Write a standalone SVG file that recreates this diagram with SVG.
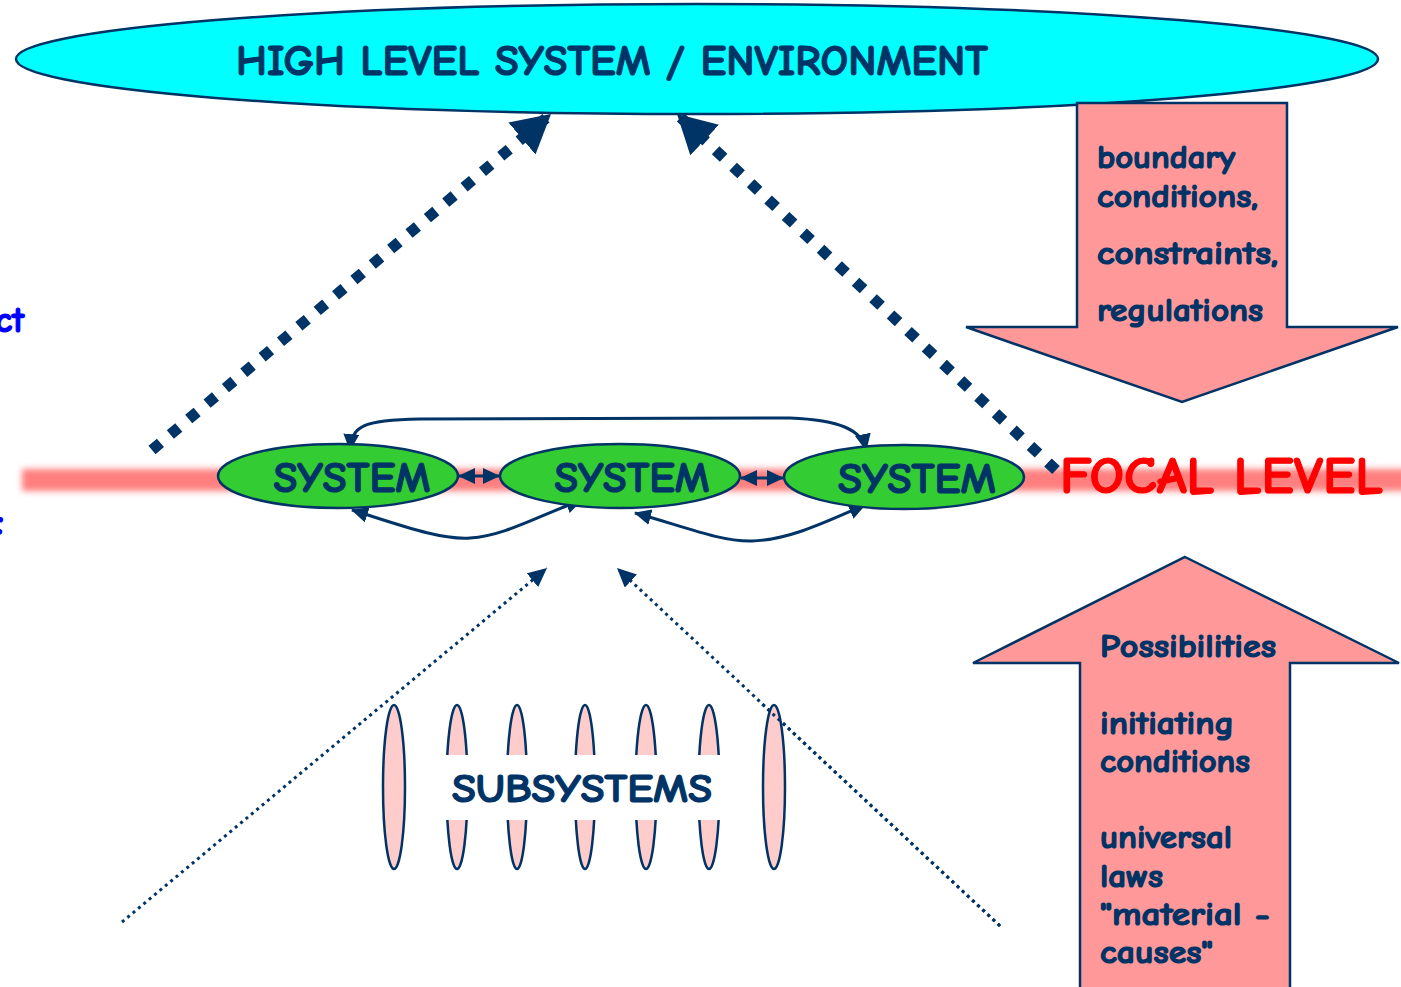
<svg xmlns="http://www.w3.org/2000/svg" width="1401" height="987" viewBox="0 0 1401 987">
<style>
.lbl{font-family:"Comic Sans MS","Comic Neue","Noto Sans",sans-serif;font-weight:bold;fill:#003366;stroke:#003366;stroke-width:1.2}
.sys{fill:#33CC33;stroke:#003366;stroke-width:2.5}
.sub{fill:#FFCCCC;stroke:#003366;stroke-width:2.5}
.conn{fill:none;stroke:#003366;stroke-width:3}
.big{fill:none;stroke:#003366;stroke-width:11;stroke-dasharray:11 13}
.thin{fill:none;stroke:#003366;stroke-width:3;stroke-dasharray:3 4}
.blk{fill:#FF9999;stroke:#003366;stroke-width:2.5}
</style>
<defs>
<filter id="blur" x="-5%" y="-100%" width="110%" height="300%"><feGaussianBlur stdDeviation="3"/></filter>
<marker id="sm" markerUnits="userSpaceOnUse" markerWidth="18" markerHeight="16" refX="16" refY="8" orient="auto-start-reverse" viewBox="0 0 18 16"><path d="M0,0 L17,8 L0,16 z" fill="#003366"/></marker>
<marker id="bg" markerUnits="userSpaceOnUse" markerWidth="40" markerHeight="42" refX="38" refY="21" orient="auto" viewBox="0 0 40 42"><path d="M0,0 L38,21 L0,42 z" fill="#003366"/></marker>
<marker id="th" markerUnits="userSpaceOnUse" markerWidth="20" markerHeight="18" refX="19" refY="9" orient="auto" viewBox="0 0 20 18"><path d="M0,0 L19,9 L0,18 z" fill="#003366"/></marker>
</defs>
<rect width="1401" height="987" fill="#FFFFFF"/>
<g id="env">
<ellipse cx="697" cy="59" rx="681" ry="55" fill="#00FFFF" stroke="#003366" stroke-width="2.5"/>
<text class="lbl" x="612" y="75" font-size="42" text-anchor="middle" textLength="752" lengthAdjust="spacingAndGlyphs">HIGH LEVEL SYSTEM / ENVIRONMENT</text>
</g>
<g id="focal-band">
<rect x="22" y="469" width="1390" height="22" fill="#FF7F7F" filter="url(#blur)"/>
</g>
<g id="left-cut">
<text x="24" y="332" font-family="'Comic Sans MS','Comic Neue','Noto Sans',sans-serif" font-weight="bold" font-size="36" fill="#0000FF" stroke="#0000FF" stroke-width="1.2" text-anchor="end">ct</text>
<text x="4" y="534" font-family="'Comic Sans MS','Comic Neue','Noto Sans',sans-serif" font-weight="bold" font-size="36" fill="#0000FF" stroke="#0000FF" stroke-width="1.2" text-anchor="end">:</text>
</g>
<g id="connectors">
<path class="big" d="M152,450 L551,114" marker-end="url(#bg)"/>
<path class="big" d="M1056,470 L677,114" marker-end="url(#bg)"/>
<path class="thin" d="M122,922 L547,568" marker-end="url(#th)"/>
<path class="thin" d="M1000,926 L617,568" marker-end="url(#th)"/>
<path class="conn" d="M459,476 L499,476" marker-start="url(#sm)" marker-end="url(#sm)"/>
<path class="conn" d="M741,478 L783,478" marker-start="url(#sm)" marker-end="url(#sm)"/>
<path class="conn" d="M350,450 C352,426 362,420 420,419 L790,418 C840,420 862,430 866,450" marker-start="url(#sm)" marker-end="url(#sm)"/>
<path class="conn" d="M352,510 C400,525 440,540 470,538 C505,536 540,515 582,500" marker-start="url(#sm)" marker-end="url(#sm)"/>
<path class="conn" d="M635,513 C680,525 720,542 752,541 C790,540 830,520 865,505" marker-start="url(#sm)" marker-end="url(#sm)"/>
</g>
<g id="system1">
<ellipse class="sys" cx="338" cy="476" rx="120" ry="32"/>
<text class="lbl" x="352" y="492" font-size="43" text-anchor="middle" textLength="157" lengthAdjust="spacingAndGlyphs">SYSTEM</text>
</g>
<g id="system2">
<ellipse class="sys" cx="620" cy="476" rx="120" ry="32"/>
<text class="lbl" x="632" y="492" font-size="43" text-anchor="middle" textLength="155" lengthAdjust="spacingAndGlyphs">SYSTEM</text>
</g>
<g id="system3">
<ellipse class="sys" cx="904" cy="477" rx="120" ry="32"/>
<text class="lbl" x="917" y="493" font-size="43" text-anchor="middle" textLength="158" lengthAdjust="spacingAndGlyphs">SYSTEM</text>
</g>
<g id="focal-label">
<text x="1060" y="493" font-family="'Comic Sans MS','Comic Neue','Noto Sans',sans-serif" font-weight="bold" font-size="52" fill="#FF0000" stroke="#FF0000" stroke-width="1.2" textLength="323" lengthAdjust="spacingAndGlyphs">FOCAL LEVEL</text>
</g>
<g id="subsystems">
<ellipse class="sub" cx="394" cy="787" rx="11" ry="82"/>
<ellipse class="sub" cx="457" cy="787" rx="10.5" ry="82"/>
<ellipse class="sub" cx="517" cy="787" rx="10" ry="82"/>
<ellipse class="sub" cx="585" cy="787" rx="10" ry="82"/>
<ellipse class="sub" cx="646" cy="787" rx="10.5" ry="82"/>
<ellipse class="sub" cx="709" cy="787" rx="10.5" ry="82"/>
<ellipse class="sub" cx="774" cy="787" rx="11" ry="82"/>
<rect x="445" y="755" width="277" height="65" fill="#FFFFFF"/>
<text class="lbl" x="582" y="802" font-size="41" text-anchor="middle" textLength="260" lengthAdjust="spacingAndGlyphs">SUBSYSTEMS</text>
</g>
<g id="thin-overlay">
<path class="thin" d="M1000,926 L760,702"/>
</g>
<g id="down-arrow">
<polygon class="blk" points="1077,103 1287,103 1287,327 1398,327 1182,402 966,327 1077,327"/>
<text class="lbl" font-size="33" x="1097" y="168" textLength="138" lengthAdjust="spacingAndGlyphs">boundary</text>
<text class="lbl" font-size="33" x="1097" y="207" textLength="161" lengthAdjust="spacingAndGlyphs">conditions,</text>
<text class="lbl" font-size="33" x="1097" y="264" textLength="181" lengthAdjust="spacingAndGlyphs">constraints,</text>
<text class="lbl" font-size="33" x="1097" y="321" textLength="166" lengthAdjust="spacingAndGlyphs">regulations</text>
</g>
<g id="up-arrow">
<polygon class="blk" points="1185,557 1399,663 1290,663 1290,995 1080,995 1080,663 973,663"/>
<text class="lbl" font-size="33" x="1100" y="657" textLength="176" lengthAdjust="spacingAndGlyphs">Possibilities</text>
<text class="lbl" font-size="33" x="1100" y="734" textLength="134" lengthAdjust="spacingAndGlyphs">initiating</text>
<text class="lbl" font-size="33" x="1100" y="772" textLength="150" lengthAdjust="spacingAndGlyphs">conditions</text>
<text class="lbl" font-size="33" x="1100" y="848" textLength="132" lengthAdjust="spacingAndGlyphs">universal</text>
<text class="lbl" font-size="33" x="1100" y="887" textLength="63" lengthAdjust="spacingAndGlyphs">laws</text>
<text class="lbl" font-size="33" x="1100" y="925" textLength="170" lengthAdjust="spacingAndGlyphs">"material -</text>
<text class="lbl" font-size="33" x="1100" y="963" textLength="113" lengthAdjust="spacingAndGlyphs">causes"</text>
</g>
</svg>
